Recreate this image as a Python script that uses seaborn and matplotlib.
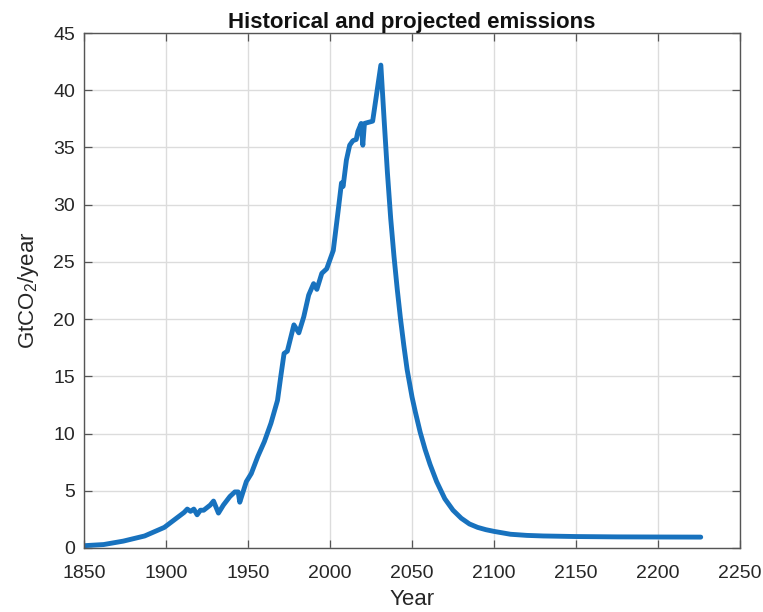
import numpy as np
import pandas as pd
import matplotlib
matplotlib.use("Agg")
import matplotlib.pyplot as plt
import seaborn as sns

# Historical emissions (GtCO2/year)
hist_years = [1850, 1862, 1874, 1887, 1899, 1905, 1911, 1913, 1915, 1917, 1919, 1921,
              1923, 1927, 1929, 1932, 1935, 1939, 1942, 1944, 1945, 1947, 1949, 1952,
              1956, 1960, 1964, 1968, 1970, 1972, 1974, 1978, 1981, 1984, 1987, 1990,
              1992, 1995, 1998, 2002, 2005, 2007, 2008, 2010, 2012, 2014, 2016, 2017,
              2019, 2020, 2021]
hist_values = [0.2, 0.3, 0.6, 1.05, 1.8, 2.45, 3.1, 3.4, 3.2, 3.4, 2.9, 3.3,
               3.3, 3.75, 4.1, 3.05, 3.75, 4.5, 4.9, 4.9, 4.0, 4.9, 5.8, 6.5,
               8.0, 9.3, 10.9, 12.9, 15.0, 17.0, 17.2, 19.5, 18.8, 20.2, 22.1, 23.1,
               22.6, 24.0, 24.4, 26.0, 29.5, 31.9, 31.6, 33.9, 35.2, 35.6, 35.7, 36.4,
               37.1, 35.2, 37.1]

# Projected emissions (GtCO2/year)
proj_years = [2026, 2031, 2032, 2033, 2035, 2037, 2039, 2041, 2043, 2045, 2047, 2050,
              2052, 2055, 2058, 2061, 2065, 2070, 2075, 2080, 2085, 2090, 2095, 2100,
              2110, 2120, 2130, 2150, 2175, 2200, 2226]
proj_values = [37.3, 42.2, 39.8, 37.4, 32.8, 28.8, 25.5, 22.6, 20.0, 17.7, 15.6, 13.2,
               11.9, 10.1, 8.6, 7.3, 5.8, 4.3, 3.3, 2.6, 2.1, 1.8, 1.6, 1.45,
               1.2, 1.1, 1.05, 1.0, 0.97, 0.96, 0.95]

x_ticks = [1850, 1900, 1950, 2000, 2050, 2100, 2150, 2200, 2250]
y_ticks = [0, 5, 10, 15, 20, 25, 30, 35, 40, 45]

df = pd.DataFrame({
    "Year": hist_years + proj_years,
    "Emissions": hist_values + proj_values,
})

sns.set_theme(style="whitegrid")
plt.rcParams["font.family"] = ["Liberation Sans", "DejaVu Sans"]
plt.rcParams["mathtext.default"] = "regular"

text_color = "#262626"
fig = plt.figure(figsize=(7.63, 6.12), dpi=100)
ax = fig.add_axes([0.110, 0.1046, 0.860, 0.8414])

sns.lineplot(data=df, x="Year", y="Emissions", ax=ax, color="#1872BE",
             linewidth=3.5, solid_joinstyle="round", solid_capstyle="round")

ax.set_xlim(x_ticks[0], x_ticks[-1])
ax.set_ylim(y_ticks[0], y_ticks[-1])
ax.set_xticks(x_ticks)
ax.set_yticks(y_ticks)
ax.set_xticklabels([str(t) for t in x_ticks])
ax.set_yticklabels([str(t) for t in y_ticks])

ax.grid(True, color="#dcdcdc", linewidth=1.0)
ax.set_facecolor("white")
for side in ["left", "right", "top", "bottom"]:
    ax.spines[side].set_visible(True)
    ax.spines[side].set_color("#555555")
    ax.spines[side].set_linewidth(1.0)

ax.tick_params(axis="both", which="both", direction="in", length=6, width=0.9,
               color="#555555", top=True, right=True, bottom=True, left=True,
               labelsize=14, labelcolor=text_color)
ax.tick_params(axis="x", pad=12)
ax.tick_params(axis="y", pad=6.5)

ax.set_xlabel("Year", fontsize=16, color=text_color, labelpad=5)
ax.set_ylabel("GtCO$_2$/year", fontsize=16, color=text_color, labelpad=9)
ax.set_title("Historical and projected emissions", fontsize=16,
             fontweight="bold", color="#111111", pad=2)

fig.savefig("out.png", dpi=100, facecolor="white")
